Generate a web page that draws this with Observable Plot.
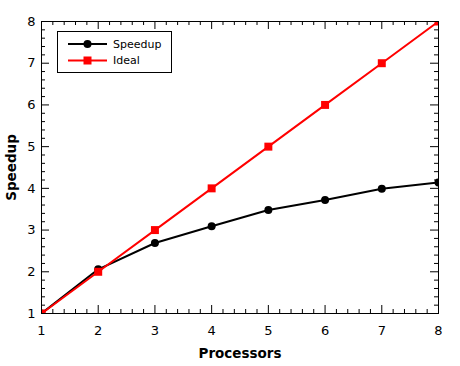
<!DOCTYPE html>
<html><head><meta charset="utf-8">
<script src="https://cdn.jsdelivr.net/npm/d3@7"></script>
<script src="https://cdn.jsdelivr.net/npm/@observablehq/plot@0.6"></script>
<style>
body{margin:0;background:#fff;}
#wrap{position:relative;width:460px;height:366px;font-family:"DejaVu Sans",sans-serif;color:#000;}
#legend{position:absolute;left:57px;top:31px;width:113px;height:40px;border:1px solid #000;background:#fff;}
#legend svg{position:absolute;left:0;top:0;}
</style></head><body><div id="wrap"></div>
<script>
const processors = [1, 2, 3, 4, 5, 6, 7, 8];
const speedup = [1, 2.06, 2.69, 3.09, 3.48, 3.72, 3.99, 4.14];
const ideal = [1, 2, 3, 4, 5, 6, 7, 8];
const xTicks = [1, 2, 3, 4, 5, 6, 7, 8];
const yTicks = [1, 2, 3, 4, 5, 6, 7, 8];
const seriesNames = ["Speedup", "Ideal"];
const seriesColors = ["#000000", "#ff0000"];

const W = 460, H = 366, mL = 41, mR = 22, mT = 21, mB = 53;
const iw = W - mL - mR, ih = H - mT - mB;
const majorLen = 8, minorLen = 4;
const minor = (ticks) => d3.range(ticks[0], ticks[ticks.length - 1] + 1e-9, 0.2)
  .map(v => Math.round(v * 10) / 10).filter(v => !ticks.includes(v));
const xMinor = minor(xTicks), yMinor = minor(yTicks);

const sp = processors.map((p, i) => ({p, v: speedup[i]}));
const id = processors.map((p, i) => ({p, v: ideal[i]}));

const plot = Plot.plot({
  width: W, height: H,
  marginLeft: mL, marginRight: mR, marginTop: mT, marginBottom: mB,
  style: {fontFamily: "DejaVu Sans", fontSize: "13px", color: "#000", background: "#fff"},
  x: {domain: [1, 8], ticks: xTicks, tickFormat: d3.format("d")},
  y: {domain: [1, 8], ticks: yTicks, tickFormat: d3.format("d")},
  marks: [
    Plot.axisX(xTicks, {tickSize: 0, tickPadding: 12, fontSize: 13, label: null}),
    Plot.axisY(yTicks, {tickSize: 0, tickPadding: 6, fontSize: 13, label: null}),
    // inward ticks, all four sides
    Plot.ruleX(xTicks, {x: d => d, insetTop: ih - majorLen}),
    Plot.ruleX(xTicks, {x: d => d, insetBottom: ih - majorLen}),
    Plot.ruleX(xMinor, {x: d => d, insetTop: ih - minorLen}),
    Plot.ruleX(xMinor, {x: d => d, insetBottom: ih - minorLen}),
    Plot.ruleY(yTicks, {y: d => d, insetRight: iw - majorLen}),
    Plot.ruleY(yTicks, {y: d => d, insetLeft: iw - majorLen}),
    Plot.ruleY(yMinor, {y: d => d, insetRight: iw - minorLen}),
    Plot.ruleY(yMinor, {y: d => d, insetLeft: iw - minorLen}),
    Plot.lineY(sp, {x: "p", y: "v", stroke: seriesColors[0], strokeWidth: 2, clip: true}),
    Plot.dot(sp, {x: "p", y: "v", fill: seriesColors[0], r: 4, symbol: "circle", clip: true}),
    Plot.lineY(id, {x: "p", y: "v", stroke: seriesColors[1], strokeWidth: 2, clip: true}),
    Plot.dot(id, {x: "p", y: "v", fill: seriesColors[1], r: 4.5, symbol: "square", clip: true}),
    Plot.frame({stroke: "#000"}),
    Plot.text(["Processors"], {frameAnchor: "bottom", textAnchor: "middle", dy: 44, fontWeight: "bold", fontSize: 13.5, fill: "#000"}),
    Plot.text(["Speedup"], {frameAnchor: "left", textAnchor: "middle", dx: -30, rotate: -90, fontWeight: "bold", fontSize: 13.5, fill: "#000"})
  ]
});
const wrap = document.getElementById("wrap");
wrap.appendChild(plot);

// legend
const leg = document.createElement("div");
leg.id = "legend";
const ns = "http://www.w3.org/2000/svg";
const lsvg = document.createElementNS(ns, "svg");
lsvg.setAttribute("width", 113); lsvg.setAttribute("height", 40);
seriesNames.forEach((name, i) => {
  const cy = 12 + i * 16.5;
  const g = document.createElementNS(ns, "g");
  const ln = document.createElementNS(ns, "line");
  ln.setAttribute("x1", 10); ln.setAttribute("x2", 49); ln.setAttribute("y1", cy); ln.setAttribute("y2", cy);
  ln.setAttribute("stroke", seriesColors[i]); ln.setAttribute("stroke-width", 2);
  g.appendChild(ln);
  let m;
  if (i === 0) {
    m = document.createElementNS(ns, "circle");
    m.setAttribute("cx", 29.5); m.setAttribute("cy", cy); m.setAttribute("r", 4);
  } else {
    m = document.createElementNS(ns, "rect");
    m.setAttribute("x", 25.5); m.setAttribute("y", cy - 4); m.setAttribute("width", 8); m.setAttribute("height", 8);
  }
  m.setAttribute("fill", seriesColors[i]);
  g.appendChild(m);
  const t = document.createElementNS(ns, "text");
  t.setAttribute("x", 55); t.setAttribute("y", cy); t.setAttribute("dy", "0.35em");
  t.setAttribute("font-size", 11); t.setAttribute("font-family", "DejaVu Sans"); t.setAttribute("fill", "#000");
  t.textContent = name;
  g.appendChild(t);
  lsvg.appendChild(g);
});
leg.appendChild(lsvg);
wrap.appendChild(leg);
</script>
</body></html>
